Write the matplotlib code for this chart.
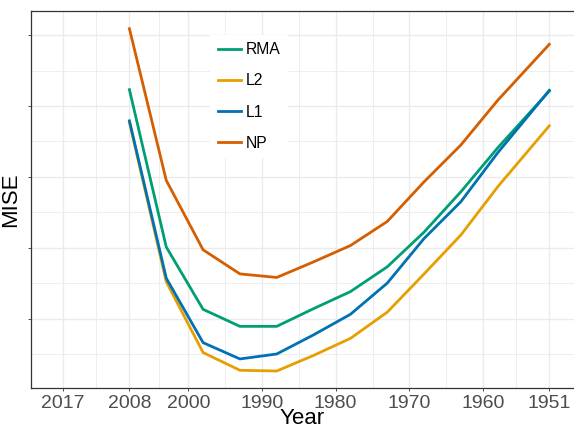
import matplotlib
matplotlib.use("Agg")
import matplotlib.pyplot as plt
from matplotlib.ticker import FixedLocator, NullFormatter

plt.rcParams['font.family'] = ['Liberation Sans', 'DejaVu Sans']

# ============================================
# DATOS
# ============================================

years = [2008, 2003, 1998, 1993, 1988, 1983, 1978, 1973, 1968, 1963, 1958, 1951]

rma = [4.23, 2.01, 1.13, 0.89, 0.89, 1.14, 1.38, 1.73, 2.22, 2.79, 3.41, 4.21]
l2 = [3.77, 1.52, 0.52, 0.27, 0.26, 0.48, 0.72, 1.09, 1.63, 2.18, 2.86, 3.72]
l1 = [3.79, 1.57, 0.66, 0.43, 0.50, 0.77, 1.06, 1.50, 2.13, 2.65, 3.34, 4.22]
np_ = [5.09, 2.95, 1.97, 1.63, 1.58, 1.80, 2.03, 2.37, 2.93, 3.45, 4.08, 4.87]

x_ticks = [2017, 2008, 2000, 1990, 1980, 1970, 1960, 1951]
x_minor = [2012.5, 2004, 1995, 1985, 1975, 1965, 1955.5]
y_ticks = [1, 2, 3, 4, 5]
y_minor = [0.5, 1.5, 2.5, 3.5, 4.5]

# ============================================
# FIGURA
# ============================================

fig = plt.figure(figsize=(5.74, 4.29), dpi=100)
ax = fig.add_axes([31 / 574, 1 - 388 / 429, 543 / 574, 377 / 429])

ax.set_xlim(2021.36, 1947.65)
ax.set_ylim(0.02, 5.34)

ax.xaxis.set_major_locator(FixedLocator(x_ticks))
ax.xaxis.set_minor_locator(FixedLocator(x_minor))
ax.yaxis.set_major_locator(FixedLocator(y_ticks))
ax.yaxis.set_minor_locator(FixedLocator(y_minor))
ax.yaxis.set_major_formatter(NullFormatter())

ax.grid(which='major', color='#EBEBEB', linewidth=1.0)
ax.grid(which='minor', color='#EBEBEB', linewidth=0.6)
ax.set_axisbelow(True)

ax.plot(years, np_, color='#D55E00', linewidth=2, label='NP')
ax.plot(years, l2, color='#E69F00', linewidth=2, label='L2')
ax.plot(years, rma, color='#009E73', linewidth=2, label='RMA')
ax.plot(years, l1, color='#0072B2', linewidth=2, label='L1')

# ejes
for side in ['left', 'top', 'bottom']:
    ax.spines[side].set_color('#333333')
    ax.spines[side].set_linewidth(0.9)
ax.spines['right'].set_visible(False)

ax.tick_params(which='major', length=2.5, width=0.6, color='#333333',
               labelsize=14, labelcolor='#4D4D4D', pad=2.5)
ax.tick_params(which='minor', length=0)

ax.set_xlabel('Year', fontsize=16, labelpad=-2.5)
ax.set_ylabel('MISE', fontsize=16, labelpad=2)

# leyenda
handles, labels = ax.get_legend_handles_labels()
order = [2, 1, 3, 0]
leg = ax.legend(
    [handles[i] for i in order],
    [labels[i] for i in order],
    loc='center',
    bbox_to_anchor=(249 / 574, 1 - 96.5 / 429),
    bbox_transform=fig.transFigure,
    fontsize=11.3,
    handlelength=1.5,
    handletextpad=0.3,
    labelspacing=1.02,
    borderpad=0.5,
    frameon=True,
    fancybox=False,
    framealpha=1,
    facecolor='white',
    edgecolor='none'
)

plt.savefig("out.png", dpi=100)
